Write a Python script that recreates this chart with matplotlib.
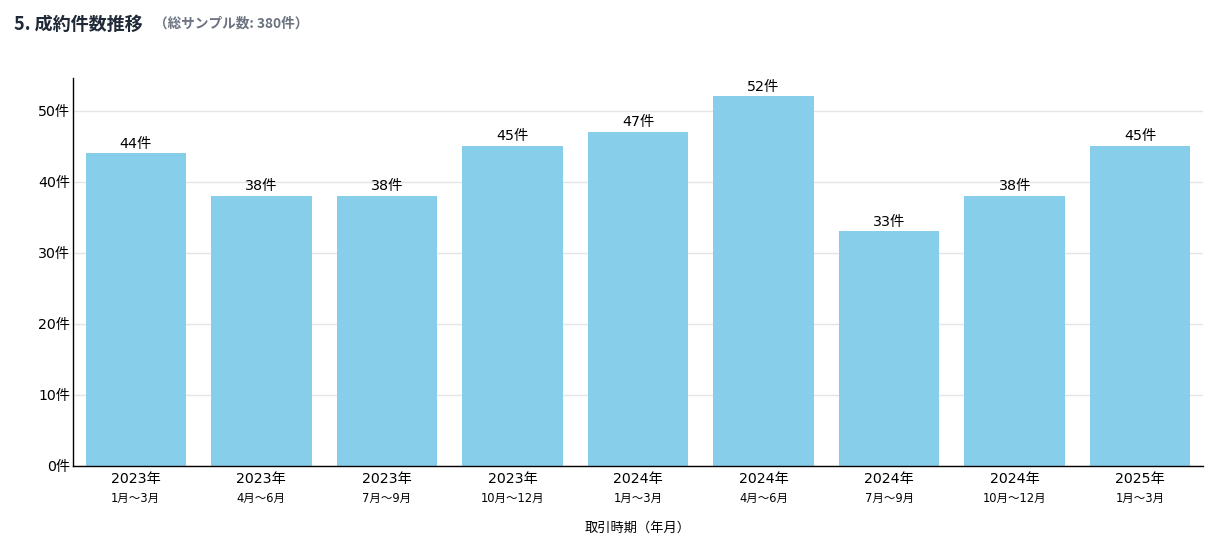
import matplotlib
matplotlib.use("Agg")
import matplotlib.pyplot as plt
import matplotlib.transforms as mtransforms

plt.rcParams['font.family'] = ['DejaVu Sans', 'Noto Sans CJK JP']
CJK = ['Noto Sans CJK JP', 'DejaVu Sans']

years = ["2023年", "2023年", "2023年", "2023年", "2024年", "2024年", "2024年", "2024年", "2025年"]
months = ["1月～3月", "4月～6月", "7月～9月", "10月～12月", "1月～3月", "4月～6月", "7月～9月", "10月～12月", "1月～3月"]
counts = [44, 38, 38, 45, 47, 52, 33, 38, 45]
yticks = [0, 10, 20, 30, 40, 50]

fig = plt.figure(figsize=(12.3, 5.44), dpi=100)
ax = fig.add_axes([73/1230, 1 - 466/544, (1203-73)/1230, (466-78)/544])

x = list(range(len(counts)))
ax.bar(x, counts, width=0.8, color="#87CEEB", zorder=2)
ax.set_xlim(-0.5, len(counts) - 0.5)
ax.set_ylim(0, max(counts) * 1.05)

ax.set_yticks(yticks)
ax.set_yticklabels([f"{v}件" for v in yticks], fontsize=10.2)
ax.tick_params(axis='y', length=0, pad=2)
ax.yaxis.grid(True, color="#e5e5e5", linewidth=1, zorder=0)
ax.set_axisbelow(True)

ax.set_xticks(x)
ax.set_xticklabels(years, fontsize=10.2)
ax.tick_params(axis='x', length=0, pad=4)
trans = mtransforms.blended_transform_factory(ax.transData, ax.transAxes)
for xi, m in zip(x, months):
    ax.text(xi, -0.068, m, transform=trans, ha='center', va='top', fontsize=8.3)

for xi, v in zip(x, counts):
    ax.annotate(f"{v}件", (xi, v), xytext=(0, 2), textcoords='offset points',
                ha='center', va='bottom', fontsize=10.3)

for s in ['top', 'right']:
    ax.spines[s].set_visible(False)
ax.spines['left'].set_linewidth(1)
ax.spines['bottom'].set_linewidth(1)

ax.set_xlabel("取引時期（年月）", fontsize=9.5, labelpad=26, family=CJK)

fig.text(14/1230, 1 - 24/544, "5. 成約件数推移", fontsize=13, fontweight='bold',
         color="#1f2937", va='center', ha='left', family=CJK)
fig.text(154/1230, 1 - 24/544, "（総サンプル数: 380件）", fontsize=9.8, fontweight='bold',
         color="#6b7280", va='center', ha='left', family=CJK)

fig.savefig("out.png", dpi=100)
